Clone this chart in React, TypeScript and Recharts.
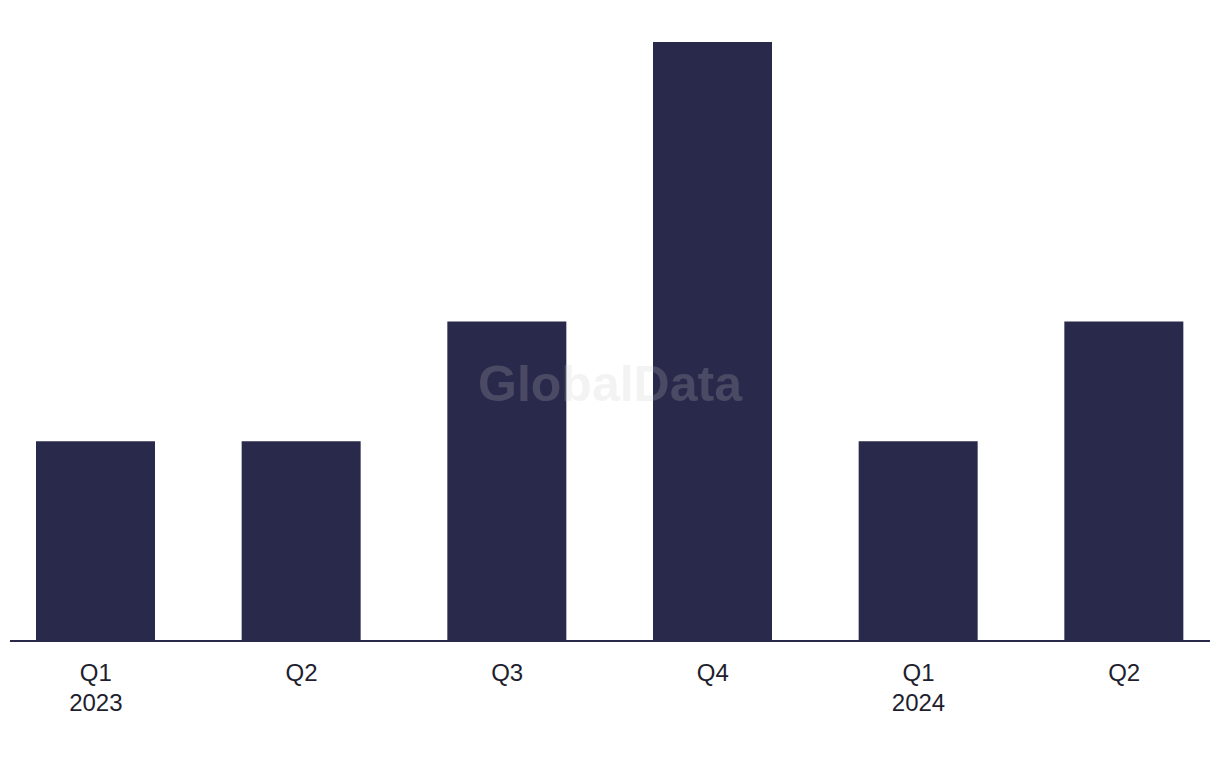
import React from 'react';
import { BarChart, Bar, XAxis, YAxis } from 'recharts';

const quarters = ['Q1', 'Q2', 'Q3', 'Q4', 'Q1', 'Q2'];
const years = ['2023', '', '', '', '2024', ''];
const deals = [5, 5, 8, 15, 5, 8];

const chartData = quarters.map((q, i) => ({ name: `${q} ${years[i]}`.trim(), quarter: q, year: years[i], value: deals[i] }));

const NAVY = '#29294b';

const QuarterTick = (props: any) => {
    const { x, y, payload, index } = props;
    return (
        <text x={x} y={y} textAnchor="middle" fill="#1e1e2e" fontSize={24} fontFamily="Liberation Sans, Arial, sans-serif">
            <tspan x={x} dy={32}>{quarters[index] ?? payload.value}</tspan>
            {years[index] ? <tspan x={x} dy={30}>{years[index]}</tspan> : null}
        </text>
    );
};

export default function App() {
    return (
        <div style={{ position: 'relative', width: 1220, height: 768, margin: -8, background: '#fff' }}>
            <BarChart width={1220} height={768} data={chartData} margin={{ top: 42, right: 10, left: 10, bottom: 67 }}>
                <XAxis
                    dataKey="name"
                    interval={0}
                    tickLine={false}
                    axisLine={{ stroke: NAVY, strokeWidth: 2 }}
                    padding={{ left: -17, right: -17 }}
                    height={60}
                    tick={<QuarterTick />}
                />
                <YAxis hide domain={[0, 15]} />
                <Bar dataKey="value" fill={NAVY} barSize={119} isAnimationActive={false} />
            </BarChart>
            <div
                style={{
                    position: 'absolute',
                    left: 0,
                    width: 1220,
                    top: 354,
                    textAlign: 'center',
                    fontFamily: 'Liberation Sans, Arial, sans-serif',
                    fontWeight: 700,
                    fontSize: 50,
                    lineHeight: '60px',
                    color: 'rgba(200, 200, 200, 0.21)',
                    pointerEvents: 'none',
                }}
            >
                GlobalData
            </div>
        </div>
    );
}
